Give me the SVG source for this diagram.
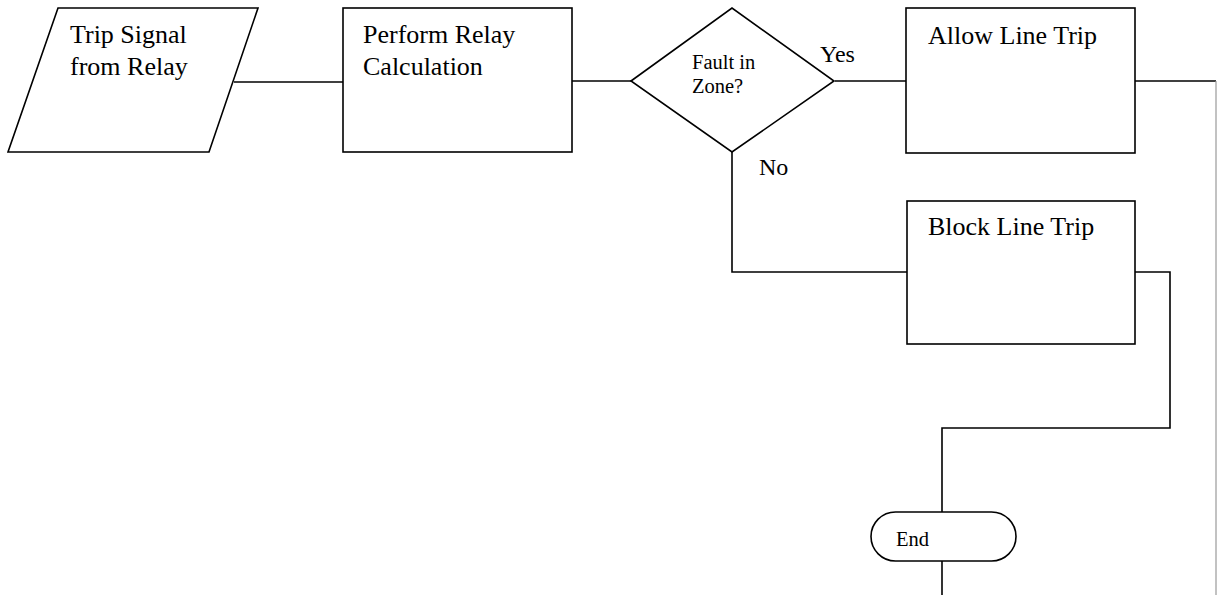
<svg xmlns="http://www.w3.org/2000/svg" width="1217" height="595" viewBox="0 0 1217 595">
<style>
.s{fill:#fff;stroke:#000;stroke-width:1.6}
.c{fill:none;stroke:#000;stroke-width:1.6}
.t{font-family:"Liberation Serif",serif;fill:#000}
.b{font-size:26px}
</style>
<rect width="1217" height="595" fill="#fff"/>
<g id="connectors">
<path class="c" d="M234,82 H343"/>
<path class="c" d="M572,81 H631"/>
<path class="c" d="M835,81 H906"/>
<path class="c" d="M1135,81 H1216"/>
<path d="M1216,81 V595" fill="none" stroke="#999" stroke-width="1.2"/>
<path class="c" d="M732,152 V272 H907"/>
<path class="c" d="M1135,272 H1170 V428 H942 V512"/>
<path class="c" d="M942,561 V595"/>
<text class="t" x="820" y="62" font-size="24">Yes</text>
<text class="t" x="759" y="175" font-size="24">No</text>
</g>
<g id="n1">
<polygon class="s" points="58,8 258,8 209,152 8,152"/>
<text class="t b" x="70" y="43">Trip Signal</text>
<text class="t b" x="70" y="75">from Relay</text>
</g>
<g id="n2">
<rect class="s" x="343" y="8" width="229" height="144"/>
<text class="t b" x="363" y="43">Perform Relay</text>
<text class="t b" x="363" y="75">Calculation</text>
</g>
<g id="n3">
<polygon class="s" points="631,81 732,8 834,81 732,152"/>
<text class="t" x="692" y="69" font-size="20.5">Fault in</text>
<text class="t" x="692" y="93" font-size="20.5">Zone?</text>
</g>
<g id="n4">
<rect class="s" x="906" y="8" width="229" height="145"/>
<text class="t b" x="928" y="44">Allow Line Trip</text>
</g>
<g id="n5">
<rect class="s" x="907" y="201" width="228" height="143"/>
<text class="t b" x="928" y="235">Block Line Trip</text>
</g>
<g id="n6">
<rect class="s" x="871" y="512" width="145" height="49" rx="24.5"/>
<text class="t" x="896" y="546" font-size="20.5">End</text>
</g>
</svg>
